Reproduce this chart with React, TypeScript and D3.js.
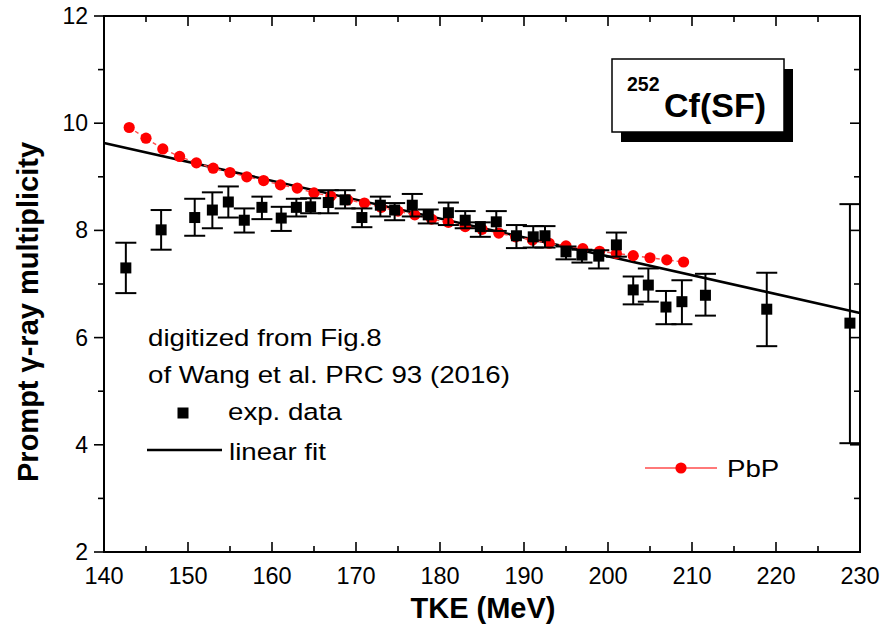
import React from "react";
import * as d3 from "d3";

// Experimental prompt gamma-ray multiplicity vs. total kinetic energy
const expTKE = [142.6, 146.8, 150.8, 152.9, 154.8, 156.7, 158.8, 161.1, 162.9, 164.6, 166.7, 168.7, 170.7, 172.9, 174.6, 176.7, 178.6, 181.0, 183.0, 184.8, 186.7, 189.1, 191.1, 192.5, 195.0, 196.9, 198.9, 201.0, 203.0, 204.8, 206.9, 208.8, 211.6, 218.9, 228.8];
const expMult = [7.30, 8.01, 8.24, 8.38, 8.53, 8.19, 8.43, 8.23, 8.43, 8.44, 8.52, 8.57, 8.24, 8.47, 8.38, 8.47, 8.29, 8.33, 8.19, 8.07, 8.16, 7.90, 7.88, 7.90, 7.60, 7.54, 7.52, 7.73, 6.89, 6.98, 6.57, 6.67, 6.79, 6.53, 6.27];
const expHigh = [7.77, 8.38, 8.59, 8.71, 8.82, 8.41, 8.63, 8.44, 8.59, 8.60, 8.75, 8.75, 8.41, 8.63, 8.51, 8.68, 8.39, 8.52, 8.36, 8.15, 8.36, 8.10, 8.08, 8.08, 7.70, 7.64, 7.63, 7.96, 7.14, 7.29, 6.87, 7.07, 7.19, 7.21, 8.49];
const expLow = [6.83, 7.64, 7.90, 8.04, 8.24, 7.96, 8.21, 7.99, 8.26, 8.32, 8.32, 8.41, 8.06, 8.26, 8.19, 8.26, 8.13, 8.10, 8.04, 7.88, 7.99, 7.67, 7.68, 7.68, 7.46, 7.40, 7.29, 7.51, 6.62, 6.67, 6.25, 6.25, 6.41, 5.84, 4.03];

// Linear fit end points
const fitTKE = [140, 230];
const fitMult = [9.63, 6.46];

// PbP model calculation
const pbpTKE = [143, 145, 147, 149, 151, 153, 155, 157, 159, 161, 163, 165, 167, 169, 171, 173, 175, 177, 179, 181, 183, 185, 187, 189, 191, 193, 195, 197, 199, 201, 203, 205, 207, 209];
const pbpMult = [9.92, 9.72, 9.52, 9.38, 9.26, 9.16, 9.08, 9.00, 8.93, 8.85, 8.79, 8.70, 8.64, 8.57, 8.51, 8.43, 8.36, 8.29, 8.21, 8.15, 8.07, 8.02, 7.95, 7.88, 7.82, 7.76, 7.71, 7.66, 7.61, 7.57, 7.53, 7.49, 7.45, 7.41];

const xMajor = [140, 150, 160, 170, 180, 190, 200, 210, 220, 230];
const xMinor = [145, 155, 165, 175, 185, 195, 205, 215, 225];
const yMajor = [2, 4, 6, 8, 10, 12];
const yMinor = [3, 5, 7, 9, 11];

const W = 884;
const H = 630;
const L = 104, R = 860, T = 16, B = 552;
const FONT = "'Liberation Sans', Arial, Helvetica, sans-serif";

type TxtProps = {
  x: number; y: number; size: number; sx?: number; anchor?: string;
  weight?: string | number; rotate?: number; children: React.ReactNode;
};

function Txt({ x, y, size, sx = 1, anchor = "start", weight = "normal", rotate = 0, children }: TxtProps) {
  return (
    <text
      transform={`translate(${x},${y}) rotate(${rotate}) scale(${sx},1)`}
      fontSize={size}
      fontFamily={FONT}
      fontWeight={weight}
      textAnchor={anchor}
      fill="#000"
    >
      {children}
    </text>
  );
}

export default function App() {
  const x = d3.scaleLinear().domain([140, 230]).range([L, R]);
  const y = d3.scaleLinear().domain([2, 12]).range([B, T]);

  const fitLine = d3.line<number>().x((_, i) => x(fitTKE[i])).y((v) => y(v))(fitMult) || "";
  const pbpLine = d3.line<number>().x((_, i) => x(pbpTKE[i])).y((v) => y(v))(pbpMult) || "";

  const MAJ = 10, MIN = 6;
  const cap = 10.5;
  const sq = 11;
  const LEG = 24.5, LSX = 1.13;

  return (
    <svg width={W} height={H} style={{ position: "absolute", left: 0, top: 0, background: "#fff" }}>
      <rect x={0} y={0} width={W} height={H} fill="#fff" />

      {/* linear fit */}
      <path d={fitLine} fill="none" stroke="#000" strokeWidth={2.6} />

      {/* PbP curve */}
      <path d={pbpLine} fill="none" stroke="#ff4d4d" strokeWidth={1.4} strokeDasharray="4,3" />
      {pbpMult.map((v, i) => (
        <circle key={`p${i}`} cx={x(pbpTKE[i])} cy={y(v)} r={5.6} fill="#ff0000" />
      ))}

      {/* experimental data with error bars */}
      {expMult.map((v, i) => {
        const cx = x(expTKE[i]);
        return (
          <g key={`e${i}`} stroke="#000" strokeWidth={2}>
            <line x1={cx} x2={cx} y1={y(expHigh[i])} y2={y(expLow[i])} />
            <line x1={cx - cap} x2={cx + cap} y1={y(expHigh[i])} y2={y(expHigh[i])} />
            <line x1={cx - cap} x2={cx + cap} y1={y(expLow[i])} y2={y(expLow[i])} />
            <rect x={cx - sq / 2} y={y(v) - sq / 2} width={sq} height={sq} fill="#000" stroke="none" />
          </g>
        );
      })}

      {/* frame */}
      <rect x={L} y={T} width={R - L} height={B - T} fill="none" stroke="#000" strokeWidth={2} />

      {/* x ticks: bottom and top, pointing inward */}
      {xMajor.map((t) => (
        <g key={`xm${t}`} stroke="#000" strokeWidth={1.6}>
          <line x1={x(t)} x2={x(t)} y1={B} y2={B - MAJ} />
          <line x1={x(t)} x2={x(t)} y1={T} y2={T + MAJ} />
        </g>
      ))}
      {xMinor.map((t) => (
        <g key={`xn${t}`} stroke="#000" strokeWidth={1.6}>
          <line x1={x(t)} x2={x(t)} y1={B} y2={B - MIN} />
          <line x1={x(t)} x2={x(t)} y1={T} y2={T + MIN} />
        </g>
      ))}
      {/* y ticks: left outward, right inward */}
      {yMajor.map((t) => (
        <g key={`ym${t}`} stroke="#000" strokeWidth={1.6}>
          <line x1={L} x2={L - MAJ} y1={y(t)} y2={y(t)} />
          <line x1={R} x2={R - MAJ} y1={y(t)} y2={y(t)} />
        </g>
      ))}
      {yMinor.map((t) => (
        <g key={`yn${t}`} stroke="#000" strokeWidth={1.6}>
          <line x1={L} x2={L - MIN} y1={y(t)} y2={y(t)} />
          <line x1={R} x2={R - MIN} y1={y(t)} y2={y(t)} />
        </g>
      ))}

      {/* tick labels */}
      {xMajor.map((t) => (
        <Txt key={`xl${t}`} x={x(t)} y={584} size={23.5} anchor="middle">{t}</Txt>
      ))}
      {yMajor.map((t) => (
        <Txt key={`yl${t}`} x={88} y={y(t) + 8} size={23} anchor="end">{t}</Txt>
      ))}

      {/* axis titles */}
      <Txt x={483} y={618} size={29} weight="bold" anchor="middle">TKE (MeV)</Txt>
      <Txt x={38} y={312} size={29} weight="bold" anchor="middle" rotate={-90}>Prompt γ-ray multiplicity</Txt>

      {/* legend and annotation */}
      <Txt x={148} y={346} size={LEG} sx={LSX}>digitized from Fig.8</Txt>
      <Txt x={148} y={383} size={LEG} sx={LSX}>of Wang et al. PRC 93 (2016)</Txt>
      <rect x={183 - 5.5} y={413 - 5.5} width={11} height={11} fill="#000" />
      <Txt x={228} y={420} size={LEG} sx={LSX}>exp. data</Txt>
      <line x1={147} x2={222} y1={450} y2={450} stroke="#000" strokeWidth={2.6} />
      <Txt x={229} y={460} size={LEG} sx={LSX}>linear fit</Txt>
      <line x1={645} x2={717} y1={468} y2={468} stroke="#ff4d4d" strokeWidth={1.4} />
      <circle cx={681} cy={468} r={5.6} fill="#ff0000" />
      <Txt x={727} y={477} size={LEG} sx={LSX}>PbP</Txt>

      {/* reaction label box with drop shadow */}
      <rect x={621} y={69} width={172} height={73} fill="#000" />
      <rect x={612} y={59} width={172} height={73} fill="#fff" stroke="#000" strokeWidth={1.5} />
      <Txt x={627} y={91} size={19.5} weight="bold">252</Txt>
      <Txt x={664} y={117} size={34} weight="bold">Cf(SF)</Txt>
    </svg>
  );
}
